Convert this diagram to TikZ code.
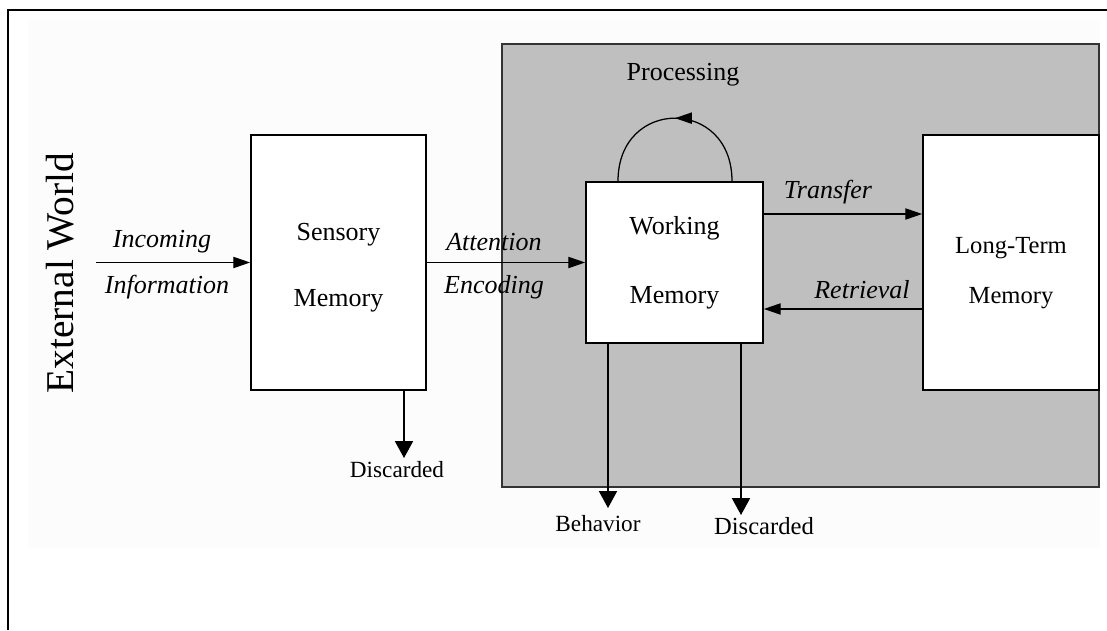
\documentclass[tikz,border=0pt]{standalone}
\usepackage{fontspec}
\setmainfont{Liberation Serif}
\usetikzlibrary{arrows.meta,decorations.markings}

\begin{document}
\begin{tikzpicture}[
  memory/.style={draw, line width=1.2pt, fill=white, inner sep=0pt, align=center},
  flow/.style={line width=0.9pt, -{Triangle[length=0.42cm,width=0.28cm]}},
  drop/.style={line width=1pt, -{Triangle[length=0.42cm,width=0.45cm]}},
  tag/.style={font=\fontsize{18.5}{22}\selectfont\itshape},
  plain/.style={font=\fontsize{16.5}{20}\selectfont}
]
\useasboundingbox (0,0) rectangle (27.675,15.75);
\fill[black!1] (0.7,2.05) rectangle (27.5,15.25);
\draw[line width=2pt] (0.2,0) -- (0.2,15.5) -- (27.675,15.5);

% shaded region around working memory
\draw[fill=black!25, draw=black!80, line width=1.5pt] (12.55,3.575) rectangle (27.475,14.65);

\node[memory, minimum width=4.375cm, minimum height=6.375cm] (sensory) at (8.4625,9.1875) {};
\node[align=center, font=\fontsize{18.5}{47}\selectfont] (sensorytext) at (8.4625,9.05) {Sensory\\Memory};
\node[memory, minimum width=4.425cm, minimum height=4.025cm, font=\fontsize{18.5}{49}\selectfont] (working) at (16.8625,9.1875) {Working\\Memory};
\node[memory, minimum width=4.4cm, minimum height=6.375cm] (longterm) at (25.275,9.1875) {};
\node[align=center, font=\fontsize{17.5}{36}\selectfont] (longtermtext) at (25.275,8.925) {Long-Term\\Memory};

\node[rotate=90, font=\fontsize{28}{33}\selectfont] (world) at (1.5,8.925) {External World};

% flow between the stores
\coordinate (source) at (2.4,9.1875);
\draw[flow] (source) -- (sensory);
\draw[flow] (sensory) -- (working);
\draw[flow] ([yshift=1.2125cm]working.east) -- ([yshift=1.2125cm]longterm.west);
\draw[flow] ([yshift=-1.1625cm]longterm.west) -- ([yshift=-1.1625cm]working.east);
\draw[line width=0.9pt, postaction=decorate,
  decoration={markings, mark=at position 0.5 with {\arrow{Triangle[length=0.42cm,width=0.28cm]}}}]
  ([xshift=1.4375cm]working.north) .. controls +(0,2.1) and +(0,2.1) .. ([xshift=-1.4125cm]working.north);

\node[tag] (incoming) at (4.05,9.7) {Incoming};
\node[tag] (information) at (4.175,8.575) {Information};
\node[tag] (attention) at (12.35,9.7) {Attention};
\node[tag] (encoding) at (12.35,8.575) {Encoding};
\node[tag] (transfer) at (20.7,10.95) {Transfer};
\node[tag] (retrieval) at (21.55,8.5) {Retrieval};
\node[font=\fontsize{18.5}{22}\selectfont] (processing) at (17.075,13.875) {Processing};

% outputs
\coordinate (sensorydrop) at (10.1,4.3);
\coordinate (behaviorend) at (15.2,3.05);
\coordinate (workingdrop) at (18.525,2.875);
\draw[drop] (sensory.south -| sensorydrop) -- (sensorydrop);
\draw[drop] (working.south -| behaviorend) -- (behaviorend);
\draw[drop] (working.south -| workingdrop) -- (workingdrop);
\node[plain] (discardedone) at (9.925,4.0) {Discarded};
\node[plain] (behavior) at (14.95,2.65) {Behavior};
\node[font=\fontsize{17.5}{21}\selectfont] (discardedtwo) at (19.1,2.6) {Discarded};

\end{tikzpicture}
\end{document}
